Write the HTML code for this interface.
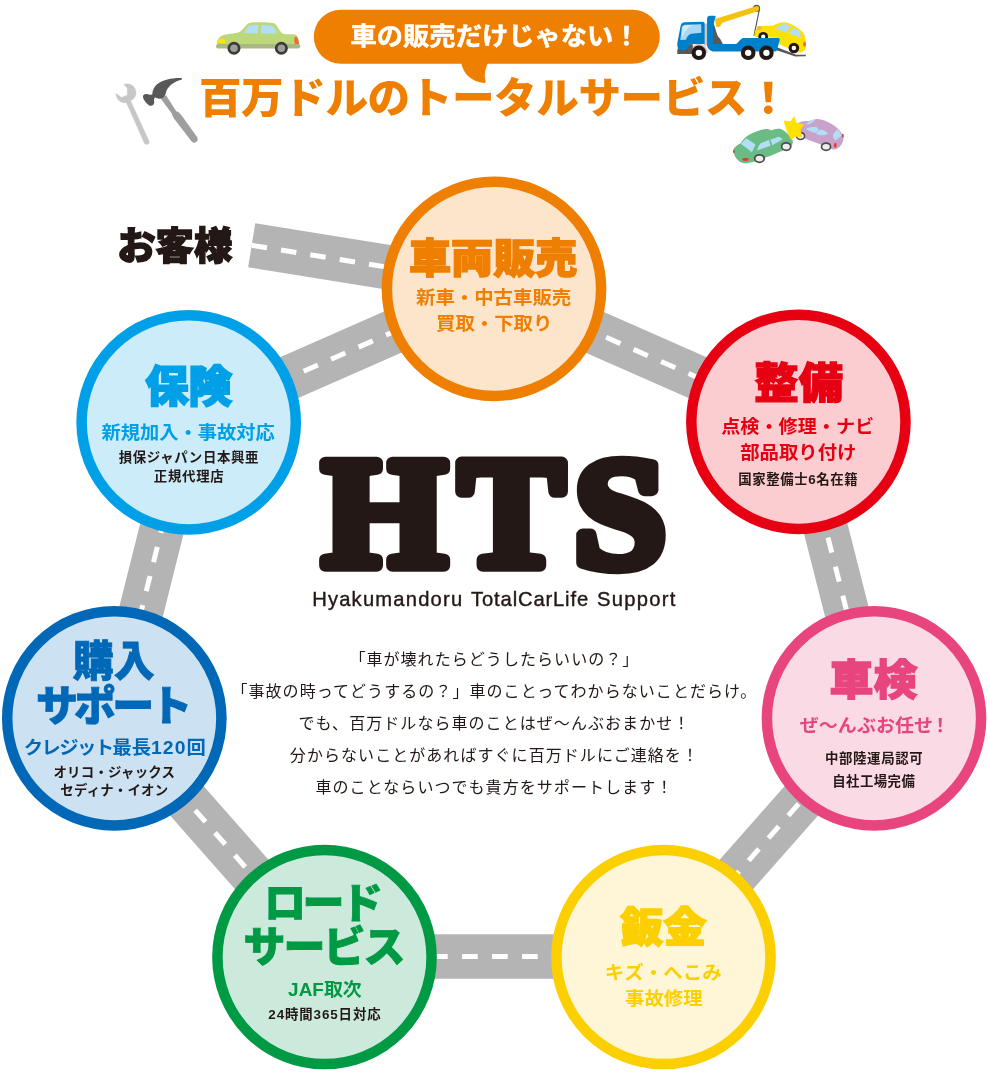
<!DOCTYPE html>
<html lang="ja">
<head>
<meta charset="utf-8">
<title>百万ドルのトータルサービス</title>
<style>
html,body{margin:0;padding:0;background:#fff;}
body{width:988px;height:1079px;overflow:hidden;position:relative;}
svg{position:absolute;left:0;top:0;display:block;will-change:transform;}
text{font-family:"Liberation Sans","Noto Sans CJK JP",sans-serif;}
.lg{font-family:"Liberation Serif",serif;}
</style>
</head>
<body>
<svg width="988" height="1079" viewBox="0 0 988 1079">
<g id="roads" fill="none" stroke-linecap="butt">
<g stroke="#b4b4b4" stroke-width="44.6">
<path d="M251.7 245.3L494 284.3"/>
<path d="M494 288L798.6 422"/>
<path d="M798.6 422L874 718.5"/>
<path d="M874 718.5L663.5 957"/>
<path d="M663.5 956.5L324.5 956.5"/>
<path d="M324.5 957L114.3 718.5"/>
<path d="M114.3 718.5L188.5 422.5"/>
<path d="M188.5 422L494 287.5"/>
</g>
<g stroke="#fff" stroke-width="5" stroke-dasharray="15.6 14.4">
<path d="M251.7 245.3L494 284.3" stroke-dasharray="15.5 14.2"/>
<path d="M494 288L798.6 422" stroke-dashoffset="-2.5"/>
<path d="M798.6 422L874 718.5" stroke-dashoffset="0.8"/>
<path d="M874 718.5L663.5 957" stroke-dashoffset="6.1"/>
<path d="M663.5 956.5L324.5 956.5" stroke-dashoffset="-5.8"/>
<path d="M324.5 957L114.3 718.5"/>
<path d="M114.3 718.5L188.5 422.5" stroke-dashoffset="-11.3"/>
<path d="M188.5 422L494 287.5" stroke-dashoffset="-5.8"/>
</g>
</g>
<g id="circles" stroke-width="10.5">
<circle cx="494" cy="288.9" r="107.1" fill="#fde5cc" stroke="#ee7f00"/>
<circle cx="798.4" cy="421.8" r="107.1" fill="#fbccd0" stroke="#e60012"/>
<circle cx="874" cy="718.3" r="107.1" fill="#fadae5" stroke="#e8457f"/>
<circle cx="663.5" cy="957" r="107.1" fill="#fef6d6" stroke="#fccf00"/>
<circle cx="324.5" cy="957" r="107.1" fill="#cceadb" stroke="#009944"/>
<circle cx="114.3" cy="718.3" r="107.1" fill="#cce1f1" stroke="#0068b7"/>
<circle cx="188.7" cy="422.3" r="107.1" fill="#ccecfa" stroke="#00a0e9"/>
</g>
<g id="bubble" fill="#ee7f00">
<rect x="313.8" y="9.7" width="346" height="54.1" rx="27.05"/>
<path d="M461 62C463 74 472 82 484 83C485.500 83 486 82 485.500 80.500C484 76 485 70 488 62Z"/>
</g>
<g id="car-green" transform="translate(210 10) scale(0.101215)">
<path fill="#bdd77b" d="M68 340C68 300 90 258 140 245C200 232 265 232 300 212C330 190 350 150 380 132C400 122 430 120 500 120C570 120 620 122 640 135C670 160 690 215 720 235C760 242 800 240 840 242C862 246 872 275 882 340Z"/>
<rect fill="#aab984" x="60" y="335" width="832" height="46" rx="22"/>
<path fill="#b2dff7" d="M335 228L385 152L480 148L472 232Z"/>
<path fill="#b2dff7" d="M503 148L598 152C620 158 632 168 640 185L660 232L503 232Z"/>
<path fill="#ffe600" d="M70 325C70 300 90 285 115 285C140 285 155 300 157 318L150 325Z"/>
<path fill="#ee6b33" d="M835 275C840 262 858 262 862 270C872 290 878 315 880 335L840 335C832 318 832 292 835 275Z"/>
<circle fill="#3e3a39" cx="237" cy="378" r="64"/><circle fill="#9e9e9f" cx="237" cy="378" r="37"/>
<circle fill="#3e3a39" cx="705" cy="378" r="64"/><circle fill="#9e9e9f" cx="705" cy="378" r="37"/>
</g>
<g id="tow" transform="translate(670 0) scale(0.151822)">
<path fill="none" stroke="#4d4d4d" stroke-width="7" d="M589 62L553 237"/>
<circle fill="#9e9e9f" stroke="#595757" stroke-width="10" cx="570" cy="55" r="19"/>
<path fill="#f5c10f" d="M296 125L572 40C590 38 592 66 578 74L345 150L330 175L305 180Z"/>
<path fill="#595757" d="M700 310L832 360L895 360L895 370L826 372L692 328Z"/>
<g id="ycar">
<path fill="#ffe100" d="M556 225C560 200 575 180 600 172L680 168C710 152 740 145 765 148C800 155 850 185 878 215C892 240 898 280 892 325C880 342 860 348 845 345L720 292L715 250L560 242Z"/>
<path fill="#b2dff7" d="M693 187L738 160L765 159L797 173L763 216Z"/>
<path fill="#b2dff7" d="M779 219L810 184L835 192L858 213L862 248Z"/>
<ellipse fill="#f8b62d" cx="588" cy="185" rx="16" ry="14"/>
<ellipse fill="#ee6b33" cx="886" cy="292" rx="9" ry="18"/>
<circle fill="#231815" cx="614" cy="242" r="32"/><circle fill="#fff" cx="614" cy="242" r="14"/>
<circle fill="#231815" cx="816" cy="316" r="35"/><circle fill="#fff" cx="816" cy="316" r="15"/>
</g>
<path fill="#c8c9ca" d="M222 155L248 155L248 300L222 300Z"/>
<path fill="#c8c9ca" d="M130 348A60 60 0 0 1 250 348Z"/>
<path fill="#595757" d="M48 330L60 300L150 290L150 355L48 355Z"/>
<path fill="#595757" d="M283 150C300 170 305 240 330 255L348 290L283 290Z"/>
<path fill="#0080cb" d="M95 146L215 144C224 144 228 150 228 158L228 290L150 290C135 290 125 300 118 315L105 330L60 330C50 318 46 300 48 285L70 170C74 155 82 147 95 146Z"/>
<path fill="#a8d6f3" d="M78 180C82 168 90 164 100 163L205 160L207 215L140 222C125 225 112 240 105 262L68 264Z"/>
<path fill="#d3eafa" d="M82 182C86 172 92 168 100 167L160 165C120 175 100 200 78 250Z"/>
<path fill="#0080cb" d="M262 103L290 103C298 103 302 108 300 116C285 150 282 200 285 290L430 290C445 290 455 262 480 250L712 250C722 250 724 258 722 266L705 330C702 338 695 340 688 340L290 340C270 340 246 320 244 298L244 125C244 112 250 104 262 103Z"/>
<circle fill="#231815" cx="190" cy="348" r="48"/><circle fill="#fff" cx="190" cy="348" r="21"/>
<circle fill="#231815" cx="515" cy="348" r="48"/><circle fill="#fff" cx="515" cy="348" r="21"/>
<circle fill="#231815" cx="635" cy="348" r="48"/><circle fill="#fff" cx="635" cy="348" r="21"/>
</g>
<g id="crash" transform="translate(725 110) scale(0.131579)">
<g id="pcar">
<path fill="#c8a2cb" d="M540 112C560 90 600 78 640 85C660 75 690 66 715 70C770 78 830 110 865 150C885 170 900 195 902 215C898 250 880 280 850 295C835 302 818 302 800 292C750 268 680 245 620 222C590 212 560 195 545 165C538 145 536 125 540 112Z"/>
<path fill="#b2dff7" d="M608 110L660 76L694 70L640 108Z"/>
<path fill="#b2dff7" d="M615 142C640 130 670 125 700 132L712 150L688 172C660 168 635 158 615 142Z"/>
<path fill="#b2dff7" d="M690 172L725 148C750 152 772 165 782 178C770 190 745 195 720 190C705 186 695 180 690 172Z"/>
<path fill="#b2dff7" d="M820 188L852 148C868 160 880 178 886 195L838 232C828 220 822 205 820 188Z"/>
<ellipse fill="#e83828" cx="838" cy="268" rx="10" ry="19"/>
<ellipse fill="#e83828" cx="896" cy="195" rx="7" ry="14"/>
<ellipse fill="#4d4d4d" cx="574" cy="198" rx="37" ry="32"/><ellipse fill="#eeeeef" cx="574" cy="198" rx="25" ry="20"/>
<ellipse fill="#4d4d4d" cx="768" cy="279" rx="41" ry="34"/><ellipse fill="#eeeeef" cx="768" cy="279" rx="28" ry="21"/>
</g>
<g id="gcar">
<path fill="#6bbb84" d="M64 305C66 285 90 268 120 250C135 230 150 210 170 198C200 178 250 155 300 146C320 142 340 148 352 155C370 145 400 138 425 145C460 160 500 200 515 235C518 250 512 268 500 278C440 310 360 345 300 365C270 380 200 400 160 405C135 408 110 395 95 378C78 360 66 335 64 305Z"/>
<path fill="#b2dff7" d="M120 256L162 215L232 262L205 322Z"/>
<path fill="#b2dff7" d="M243 308C248 285 258 265 272 252L334 228L346 272Z"/>
<path fill="#b2dff7" d="M344 226L408 204C420 208 430 214 436 224L360 268Z"/>
<ellipse fill="#e83828" cx="156" cy="376" rx="24" ry="11"/>
<ellipse fill="#e83828" cx="68" cy="316" rx="7" ry="13"/>
<ellipse fill="#4d4d4d" cx="262" cy="369" rx="43" ry="35"/><ellipse fill="#eeeeef" cx="262" cy="369" rx="29" ry="22"/>
<ellipse fill="#4d4d4d" cx="465" cy="278" rx="41" ry="35"/><ellipse fill="#eeeeef" cx="465" cy="278" rx="28" ry="22"/>
</g>
<path fill="#ffe100" stroke="#ffe100" stroke-width="6" stroke-linejoin="round" d="M450 83L497 90L526 52L542 100L597 112L572 146L582 206L532 198L503 224L490 196C473 170 462 130 450 83Z"/>
</g>
<g id="tools" transform="translate(105 65) scale(0.111359)">
<path fill="#c6c7c8" stroke="#c6c7c8" stroke-width="3" stroke-linejoin="round" d="M168 174A80 80 0 0 1 230 322L398 688A24 24 0 0 1 355 705L192 338A80 80 0 0 1 99 253L148 291L200 270L200 207Z"/>
<path fill="#9e9e9f" d="M500 300L548 272L640 415C660 420 675 435 690 455L825 645C850 680 808 715 780 690L635 500C618 480 605 460 600 435Z"/>
<path fill="#595757" d="M690 118C695 120 692 130 685 133C620 150 575 185 550 235C545 260 540 280 520 295C500 308 470 305 450 290C440 300 438 320 442 340C440 360 420 372 400 365C370 345 345 315 340 285C340 268 355 258 375 260C395 265 410 272 425 262C425 230 440 195 470 170C530 130 620 112 690 118Z"/>
</g>

<g id="texts">
<text id="bub" transform="translate(495.05 45.35) scale(1.0312 1)" font-size="25.5" font-weight="700" fill="#fff" text-anchor="middle" stroke="#fff" stroke-width="0.5" stroke-linejoin="miter">車の販売だけじゃない！</text>
<text id="ttl" x="494.07" y="113.1" font-size="42.6" font-weight="900" fill="#ee7f00" text-anchor="middle" letter-spacing="-0.43">百万ドルのトータルサービス！</text>
<text id="cust" transform="translate(174.8 259.07) scale(1.0806 1.0582)" font-size="35.5" font-weight="900" fill="#231815" text-anchor="middle" stroke="#231815" stroke-width="1.3" stroke-linejoin="miter">お客様</text>
<text id="sale1" transform="translate(493.18 272.82) scale(1.0933 1.0484)" font-size="38.5" font-weight="900" fill="#ee7f00" text-anchor="middle" stroke="#ee7f00" stroke-width="1.3" stroke-linejoin="miter">車両販売</text>
<text id="sale2" transform="translate(493.6 304.35) scale(1.0497 1)" font-size="18.5" font-weight="700" fill="#ee7f00" text-anchor="middle">新車・中古車販売</text>
<text id="sale3" transform="translate(494.22 330.3) scale(1.0492 1)" font-size="18.5" font-weight="700" fill="#ee7f00" text-anchor="middle">買取・下取り</text>
<text id="ins1" transform="translate(188.5 401.69) scale(1.0844 1.0721)" font-size="40" font-weight="900" fill="#00a0e9" text-anchor="middle" stroke="#00a0e9" stroke-width="1.8" stroke-linejoin="miter">保険</text>
<text id="ins2" transform="translate(188.18 438.8) scale(1.042 1)" font-size="18.5" font-weight="700" fill="#00a0e9" text-anchor="middle">新規加入・事故対応</text>
<text id="ins3" x="188.88" y="462.3" font-size="13.4" font-weight="700" fill="#231815" text-anchor="middle" letter-spacing="0.64">損保ジャパン日本興亜</text>
<text id="ins4" x="189.08" y="480.5" font-size="13.4" font-weight="700" fill="#231815" text-anchor="middle" letter-spacing="0.74">正規代理店</text>
<text id="mnt1" transform="translate(798.73 397.83) scale(1.0972 1.0336)" font-size="40.5" font-weight="900" fill="#e60012" text-anchor="middle" stroke="#e60012" stroke-width="1.3" stroke-linejoin="miter">整備</text>
<text id="mnt2" transform="translate(797.73 433.3) scale(1.0346 1)" font-size="18.5" font-weight="700" fill="#e60012" text-anchor="middle">点検・修理・ナビ</text>
<text id="mnt3" transform="translate(798.32 459.35) scale(1.0482 1)" font-size="18.5" font-weight="700" fill="#e60012" text-anchor="middle">部品取り付け</text>
<text id="mnt4" x="798.28" y="483.95" font-size="13.4" font-weight="700" fill="#231815" text-anchor="middle" letter-spacing="0.62">国家整備士6名在籍</text>
<text id="buy1" transform="translate(113.8 676.07) scale(1.0 1.0188)" font-size="41" font-weight="900" fill="#0068b7" text-anchor="middle" stroke="#0068b7" stroke-width="0.8" stroke-linejoin="miter">購入</text>
<text id="buy2" x="112.2" y="721.15" font-size="42" font-weight="900" fill="#0068b7" text-anchor="middle" letter-spacing="-3.93" stroke="#0068b7" stroke-width="0.8" stroke-linejoin="miter">サポート</text>
<text id="buy3" transform="translate(114.73 754.1) scale(1.044 1)" font-size="18.5" font-weight="700" fill="#0068b7" text-anchor="middle"><tspan letter-spacing="-1.5">クレジット</tspan>最長<tspan letter-spacing="1">120</tspan>回</text>
<text id="buy4" x="114.35" y="777.35" font-size="13.4" font-weight="700" fill="#231815" text-anchor="middle" letter-spacing="0.26">オリコ・ジャックス</text>
<text id="buy5" x="114.35" y="795.15" font-size="13.4" font-weight="700" fill="#231815" text-anchor="middle" letter-spacing="0.23">セディナ・イオン</text>
<text id="shk1" transform="translate(873.48 694.83) scale(1.0851 1.0463)" font-size="40.5" font-weight="900" fill="#e8457f" text-anchor="middle" stroke="#e8457f" stroke-width="1.2" stroke-linejoin="miter">車検</text>
<text id="shk2" transform="translate(874.85 732) scale(1.0275 1)" font-size="18.5" font-weight="700" fill="#e8457f" text-anchor="middle">ぜ〜んぶお任せ<tspan dx="-2">！</tspan></text>
<text id="shk3" x="874.12" y="763" font-size="13.4" font-weight="700" fill="#231815" text-anchor="middle" letter-spacing="0.66">中部陸運局認可</text>
<text id="shk4" x="873.77" y="785.6" font-size="13.4" font-weight="700" fill="#231815" text-anchor="middle" letter-spacing="0.43">自社工場完備</text>
<text id="rd1" x="321.72" y="917.6" font-size="42" font-weight="900" fill="#009944" text-anchor="middle" letter-spacing="-3.52" stroke="#009944" stroke-width="0.8" stroke-linejoin="miter">ロード</text>
<text id="rd2" x="323.43" y="961.9" font-size="42" font-weight="900" fill="#009944" text-anchor="middle" letter-spacing="-2.02" stroke="#009944" stroke-width="0.8" stroke-linejoin="miter">サービス</text>
<text id="rd3" transform="translate(324.95 996) scale(1.0239 1)" font-size="18.5" font-weight="700" fill="#009944" text-anchor="middle">JAF取次</text>
<text id="rd4" x="324.9" y="1018.5" font-size="13.4" font-weight="700" fill="#231815" text-anchor="middle" letter-spacing="0.9">24時間365日対応</text>
<text id="bk1" transform="translate(663.5 942.39) scale(1.0722 1.0311)" font-size="40" font-weight="900" fill="#fccf00" text-anchor="middle" stroke="#fccf00" stroke-width="1.6" stroke-linejoin="miter">鈑金</text>
<text id="bk2" transform="translate(663.18 978.75) scale(1.0539 1)" font-size="18.5" font-weight="700" fill="#fccf00" text-anchor="middle">キズ・へこみ</text>
<text id="bk3" transform="translate(663.85 1004.85) scale(1.0495 1)" font-size="18.5" font-weight="700" fill="#fccf00" text-anchor="middle">事故修理</text>
<text id="sub" y="606" font-size="20.2" font-weight="400" fill="#231815" text-anchor="middle" stroke="#231815" stroke-width="0.4" stroke-linejoin="miter"><tspan id="sub1" x="390.55" letter-spacing="1.19">Hyakumandoru</tspan> <tspan id="sub2" x="532.85" letter-spacing="0.85">TotalCarLife</tspan> <tspan id="sub3" x="636.9" letter-spacing="1.28">Support</tspan></text>
<text id="p1" x="494.4" y="664.9" font-size="16" font-weight="400" fill="#231815" text-anchor="middle" letter-spacing="1.06">「車が壊れたらどうしたらいいの？」</text>
<text id="p2" x="494.4" y="696.65" font-size="16" font-weight="400" fill="#231815" text-anchor="middle" letter-spacing="1.06">「事故の時ってどうするの？」車のことってわからないことだらけ。</text>
<text id="p3" x="494.4" y="729.05" font-size="16" font-weight="400" fill="#231815" text-anchor="middle" letter-spacing="1.06">でも、百万ドルなら車のことはぜ〜んぶおまかせ！</text>
<text id="p4" x="494.4" y="761.3" font-size="16" font-weight="400" fill="#231815" text-anchor="middle" letter-spacing="1.06">分からないことがあればすぐに百万ドルにご連絡を！</text>
<text id="p5" x="494.4" y="793.45" font-size="16" font-weight="400" fill="#231815" text-anchor="middle" letter-spacing="1.06">車のことならいつでも貴方をサポートします！</text>
<text id="logo" y="0" transform="translate(0 565.75) scale(1.0606 1.0417)" font-size="150" font-weight="700" fill="#231815" text-anchor="middle" stroke="#231815" stroke-width="12" stroke-linejoin="round" class="lg"><tspan id="lgH" x="362.57">H</tspan><tspan id="lgT" x="482.4" textLength="99.08" lengthAdjust="spacingAndGlyphs">T</tspan><tspan id="lgS" x="584.68" textLength="86.86" lengthAdjust="spacingAndGlyphs">S</tspan></text>
</g>
</svg>
</body>
</html>
